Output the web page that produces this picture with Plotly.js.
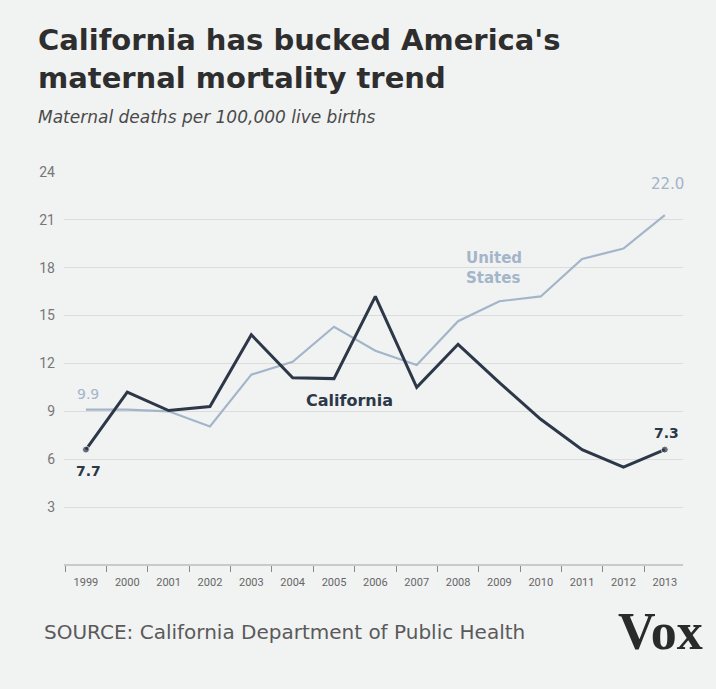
<!DOCTYPE html>
<html>
<head>
<meta charset="utf-8">
<script src="https://cdn.plot.ly/plotly-3.0.1.min.js"></script>
<style>
html,body{margin:0;padding:0;background:#f1f2f2;}
#chart{width:716px;height:689px;}
</style>
</head>
<body>
<div id="chart"></div>
<script>
// Data
var years = [1999,2000,2001,2002,2003,2004,2005,2006,2007,2008,2009,2010,2011,2012,2013];
var california = [6.6,10.2,9.05,9.3,13.8,11.1,11.05,16.2,10.5,13.2,10.8,8.5,6.6,5.5,6.6];
var unitedStates = [9.1,9.1,9.0,8.05,11.3,12.1,14.3,12.8,11.9,14.65,15.9,16.2,18.55,19.2,21.3];
var yTicks = [3,6,9,12,15,18,21,24];
var xTickLabels = years.map(String);
var caStartLabel = "7.7";
var caEndLabel = "7.3";
var usStartLabel = "9.9";
var usEndLabel = "22.0";

var caColor = "#2c3748";
var usColor = "#a3b5c9";
var last = years.length - 1;

var traces = [
  {
    x: years, y: unitedStates, type: "scatter", mode: "lines",
    line: {color: usColor, width: 2.2}, hoverinfo: "skip", showlegend: false
  },
  {
    x: years, y: california, type: "scatter", mode: "lines+markers",
    line: {color: caColor, width: 3},
    marker: {color: caColor, size: years.map(function(v,i){return (i===0||i===last)?7:0;})},
    hoverinfo: "skip", showlegend: false
  }
];

var annotations = [
  {x: years[0], y: california[0], xshift:3, yshift:-21, showarrow:false, text: caStartLabel,
   font:{family:"DejaVu Sans", size:14, color:caColor, weight:700}},
  {x: years[last], y: california[last], xshift:2, yshift:17, showarrow:false, text: caEndLabel,
   font:{family:"DejaVu Sans", size:14, color:caColor, weight:700}},
  {x: years[0], y: unitedStates[0], xshift:2, yshift:16, showarrow:false, text: usStartLabel,
   font:{family:"DejaVu Sans", size:14, color:usColor}},
  {x: years[last], y: unitedStates[last], xshift:3, yshift:31, showarrow:false, text: usEndLabel,
   font:{family:"DejaVu Sans", size:15, color:usColor}},
  {x: years[10], y: unitedStates[10], xshift:-5, yshift:33, showarrow:false, align:"left",
   text: "United<br>States", font:{family:"DejaVu Sans", size:15, color:usColor, weight:700}},
  {x: years[5] + 0.5*(years[6]-years[5]), y: california[5], xshift:36, yshift:-23, showarrow:false,
   text: "California", font:{family:"DejaVu Sans", size:16, color:caColor, weight:700}},
  // Titles and footer
  {xref:"paper", yref:"paper", x:-0.045, y:1.385, xanchor:"left", yanchor:"top", showarrow:false, align:"left",
   text:"California has bucked America's<br>maternal mortality trend",
   font:{family:"DejaVu Sans", size:29, color:"#2e2e2e", weight:700}},
  {xref:"paper", yref:"paper", x:-0.045, y:1.17, xanchor:"left", yanchor:"top", showarrow:false,
   text:"<i>Maternal deaths per 100,000 live births</i>",
   font:{family:"DejaVu Sans", size:17, color:"#4a4a4a"}},
  {xref:"paper", yref:"paper", x:-0.035, y:-0.138, xanchor:"left", yanchor:"top", showarrow:false,
   text:"SOURCE: California Department of Public Health",
   font:{family:"DejaVu Sans", size:20, color:"#5a5a5a"}},
  {xref:"paper", yref:"paper", x:1.035, y:-0.095, xanchor:"right", yanchor:"top", showarrow:false,
   text:"<b>Vox</b>",
   font:{family:"Liberation Serif", size:52, color:"#2a2a2a"}}
];

var layout = {
  width: 716, height: 689,
  paper_bgcolor: "#f1f2f2", plot_bgcolor: "#f1f2f2",
  margin: {l: 64, r: 33, t: 172, b: 125},
  showlegend: false,
  xaxis: {
    range: [1998.47, 2013.44],
    tickvals: years, ticktext: xTickLabels,
    ticks: "", showgrid: false, zeroline: false,
    showline: true, linecolor: "#c9c9c9", linewidth: 2,
    tickfont: {family: "Liberation Sans Narrow, Roboto", size: 11, color: "#666"},
    ticklabelstandoff: 7,
    minor: {ticks: "outside", tick0: 1998.5, dtick: 1, ticklen: 6, tickcolor: "#888", tickwidth: 1, showgrid: false},
    fixedrange: true
  },
  yaxis: {
    range: [-0.57, 24],
    tickvals: yTicks, ticks: "",
    showgrid: true, gridcolor: "#dcdcdc", gridwidth: 1,
    zeroline: false, showline: false,
    tickfont: {family: "Roboto", size: 14, color: "#777"},
    ticklabelstandoff: 8,
    fixedrange: true
  },
  annotations: annotations
};

Plotly.newPlot("chart", traces, layout, {staticPlot: true, displayModeBar: false});
</script>
</body>
</html>
